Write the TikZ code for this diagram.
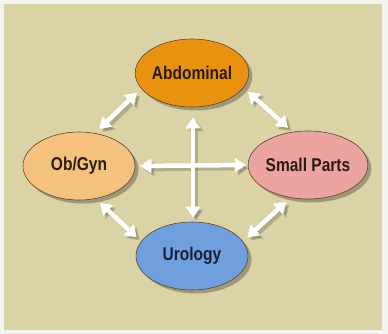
\documentclass[tikz,border=0pt]{standalone}
\usepackage{fontspec}
\setmainfont{Liberation Sans}
\usetikzlibrary{shapes.geometric,arrows.meta,shadows}
\definecolor{outerbg}{HTML}{F3F3EF}
\definecolor{panel}{HTML}{D9D3A6}
\definecolor{abdc}{HTML}{E8920F}
\definecolor{obc}{HTML}{F4C27C}
\definecolor{spc}{HTML}{ECA4A0}
\definecolor{uroc}{HTML}{6F9FDC}
\definecolor{edgec}{HTML}{5A4632}
\definecolor{txtc}{HTML}{2B1B14}
\definecolor{txtblue}{HTML}{1B2038}
\definecolor{shadowc}{HTML}{5A5240}
\tikzset{
  organ/.style={ellipse, draw=edgec, line width=0.6pt, minimum width=112pt, minimum height=68pt, inner sep=0pt,
    font=\fontsize{18.5}{18.5}\selectfont\bfseries, text=txtc,
    drop shadow={shadow xshift=3.5pt, shadow yshift=-3.5pt, fill=shadowc, opacity=0.45}},
  twoway/.style={line width=4.5pt, white, {Triangle[length=11pt,width=14pt]}-{Triangle[length=11pt,width=14pt]}},
  twowayshadow/.style={line width=4.5pt, shadowc, opacity=0.3, {Triangle[length=11pt,width=14pt]}-{Triangle[length=11pt,width=14pt]},
    transform canvas={shift={(3pt,-3pt)}}}
}
\newcommand{\cond}[1]{\scalebox{0.84}[1]{#1}}
\begin{document}
\begin{tikzpicture}[x=1pt,y=-1pt]
\fill[outerbg] (0,0) rectangle (388,334);
\useasboundingbox (0,0) rectangle (388,334);
\fill[panel] (4,4) rectangle (382,330);

\node[organ, fill=abdc] (abd) at (192,73) {\cond{Abdominal}};
\node[organ, fill=obc] (ob) at (79,166) {\cond{Ob/Gyn}};
\node[organ, fill=spc] (sp) at (308,165) {\cond{Small Parts}};
\node[organ, fill=uroc, text=txtblue] (uro) at (192,256) {\cond{Urology}};

\foreach \s in {twowayshadow, twoway}{
  \draw[\s, shorten <=6pt, shorten >=6pt] (abd.197) -- (ob.64);
  \draw[\s, shorten <=6pt, shorten >=6pt] (abd.-16) -- (sp.115);
  \draw[\s, shorten <=6pt, shorten >=6pt] (ob.-63) -- (uro.164);
  \draw[\s, shorten <=6pt, shorten >=6pt] (sp.-118) -- (uro.16);
  \draw[\s, shorten <=5pt, shorten >=2pt] (ob.east) -- (sp.west);
  \draw[\s, shorten <=10pt, shorten >=4pt] ([xshift=1pt]abd.south) -- ([xshift=1pt]uro.north);
}
\end{tikzpicture}
\end{document}
